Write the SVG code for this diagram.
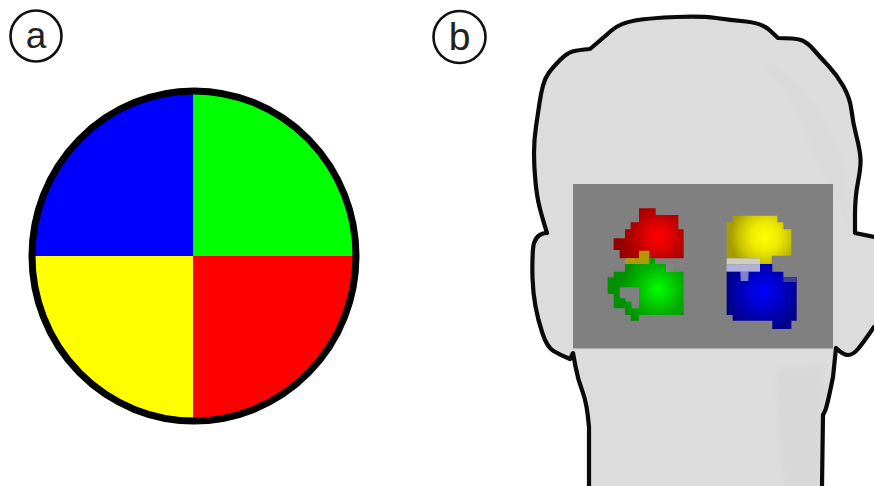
<svg xmlns="http://www.w3.org/2000/svg" width="874" height="486" viewBox="0 0 874 486">
  <style>
    .tag { fill: #fff; stroke: #111; stroke-width: 2.6; }
    .tag-text { font-family: "Liberation Sans", Arial, sans-serif; fill: #222; text-anchor: middle; }
    .outline { fill: none; stroke: #0a0a0a; stroke-width: 4.200; stroke-linejoin: round; stroke-linecap: round; }
  </style>
  <defs>
    <filter id="soft" x="-5%" y="-5%" width="110%" height="110%"><feGaussianBlur stdDeviation="0.55"/></filter>
    <filter id="shade" x="-20%" y="-20%" width="140%" height="140%"><feGaussianBlur stdDeviation="2.500"/></filter>
    <clipPath id="disc"><ellipse cx="194" cy="256" rx="162" ry="165"/></clipPath>
    <radialGradient id="glow-red" gradientUnits="userSpaceOnUse" cx="205" cy="140" r="120">
      <stop offset="0" stop-color="#ff0000"/><stop offset=".25" stop-color="#ea0000"/><stop offset=".6" stop-color="#b80000"/><stop offset="1" stop-color="#920000"/>
    </radialGradient>
    <radialGradient id="glow-green" gradientUnits="userSpaceOnUse" cx="205" cy="298" r="115">
      <stop offset="0" stop-color="#00ff00"/><stop offset=".25" stop-color="#00e000"/><stop offset=".6" stop-color="#00b400"/><stop offset="1" stop-color="#009000"/>
    </radialGradient>
    <radialGradient id="glow-yellow" gradientUnits="userSpaceOnUse" cx="525" cy="140" r="105">
      <stop offset="0" stop-color="#ffff00"/><stop offset=".4" stop-color="#eeea00"/><stop offset=".72" stop-color="#ccc600"/><stop offset="1" stop-color="#a49c00"/>
    </radialGradient>
    <radialGradient id="glow-blue" gradientUnits="userSpaceOnUse" cx="520" cy="305" r="115">
      <stop offset="0" stop-color="#0000ff"/><stop offset=".3" stop-color="#0000dc"/><stop offset=".7" stop-color="#0000ac"/><stop offset="1" stop-color="#000088"/>
    </radialGradient>
  </defs>
  <rect width="874" height="486" fill="#fff"/>

  <g id="label-a">
    <circle class="tag" cx="36" cy="36" r="25.500"/>
    <text class="tag-text" x="36" y="48" font-size="37">a</text>
  </g>
  <g id="label-b">
    <circle class="tag" cx="459.500" cy="37" r="26"/>
    <text class="tag-text" x="459.500" y="50" font-size="39">b</text>
  </g>

  <g id="disc-quadrants">
    <g clip-path="url(#disc)">
      <rect x="30" y="90" width="163" height="166" fill="#0000ff"/>
      <rect x="193" y="90" width="165" height="166" fill="#00ff00"/>
      <rect x="30" y="256" width="163" height="166" fill="#ffff00"/>
      <rect x="193" y="256" width="165" height="166" fill="#ff0000"/>
    </g>
    <ellipse cx="194" cy="256" rx="162" ry="165" fill="none" stroke="#000" stroke-width="7"/>
  </g>

  <g id="head">
    <path fill="#dcdcdc" d="M547 233Q542 217 539.500 207Q537 197 535.500 182Q534 167 534 153.500Q534 140 536 126.500Q538 113 539.500 103Q541 93 543 85.500Q545 78 549 72.500Q553 67 560 60Q567 53 572.500 51.500Q578 50 590 49Q603 38 611.500 30.500Q620 23 635 20.500Q650 18 676 17Q702 16 716 18Q730 20 746 21.500Q762 23 770 30.500L778 38Q795 38 801 40Q807 42 813.500 49.500Q820 57 828.500 66Q837 75 843.500 86.500Q850 98 851.500 110.500Q853 123 856.500 136.500Q860 150 860.500 158.500Q861 167 858 182Q855 197 855 215L855 233L874 237L874 327Q863 343 858 349Q853 355 848 355Q843 355 836 348L833 377Q827 407 825 411L823 415L822 486L589 486L589 427Q587 403 582.500 391.500Q578 380 575.500 366.500L573 353L570 359Q560 355 553.500 351Q547 347 542.500 333.500Q538 320 535.500 306.500Q533 293 532.500 278Q532 263 533 249Q534 235 545 233Z"/>
    <path d="M755 55C800 75 830 115 845 170L850 230L835 200L812 150L795 105Z" fill="#dadada" filter="url(#shade)"/>
    <path d="M778 368L825 366L820 420L818 486L785 486C778 440 776 400 778 368Z" fill="#d8d8d8" filter="url(#shade)"/>
    <path class="outline" d="M547 233Q542 217 539.500 207Q537 197 535.500 182Q534 167 534 153.500Q534 140 536 126.500Q538 113 539.500 103Q541 93 543 85.500Q545 78 549 72.500Q553 67 560 60Q567 53 572.500 51.500Q578 50 590 49Q603 38 611.500 30.500Q620 23 635 20.500Q650 18 676 17Q702 16 716 18Q730 20 746 21.500Q762 23 770 30.500L778 38Q795 38 801 40Q807 42 813.500 49.500Q820 57 828.500 66Q837 75 843.500 86.500Q850 98 851.500 110.500Q853 123 856.500 136.500Q860 150 860.500 158.500Q861 167 858 182Q855 197 855 215L855 233L874 237"/>
    <path class="outline" d="M874 327Q863 343 858 349Q853 355 848 355Q843 355 836 348L833 377Q827 407 825 411L823 415L822 486"/>
    <path class="outline" d="M589 486L589 427Q587 403 582.500 391.500Q578 380 575.500 366.500L573 353L570 359Q560 355 553.500 351Q547 347 542.500 333.500Q538 320 535.500 306.500Q533 293 532.500 278Q532 263 533 249Q534 235 545 233"/>
  </g>

  <g id="activation-map">
    <rect x="573" y="184" width="260" height="164.500" fill="#808080"/>
    <g transform="translate(590 190) scale(.33333)" filter="url(#soft)">
      <!-- red patch -->
      <path fill="url(#glow-red)" d="M147 55H197V75H265V118H281V205H89V180H71V145H105V118H122V97H147Z"/>
      <!-- overlap of red and green -->
      <path fill="#b09a00" d="M147 182H178V222H105V205H147Z"/>
      <path fill="#00a000" d="M178 205H195V222H178Z"/>
      <!-- green patch -->
      <path fill="url(#glow-green)" fill-rule="evenodd" d="M105 222H228V245H281V375H147V392H122V375H105V355H71V312H53V262H71V245H105ZM89 292H147V355H125V335H107V325H89Z"/>
      <rect x="228" y="225" width="20" height="20" fill="#808a80"/>
      <!-- yellow patch -->
      <path fill="url(#glow-yellow)" d="M428 77H562V97H580V118H604V197H545V222H510V205H410V97H428Z"/>
      <!-- washed-out overlap of yellow and blue -->
      <rect x="410" y="205" width="100" height="18" fill="#cfcfb8"/>
      <rect x="410" y="223" width="100" height="22" fill="#b0b0dc"/>
      <!-- blue patch -->
      <path fill="url(#glow-blue)" d="M510 222H547V245H580V262H620V392H604V417H547V392H428V375H410V245H452V262H475V245H510Z"/>
      <rect x="452" y="245" width="23" height="28" fill="#8080d0"/>
      <rect x="580" y="262" width="40" height="14" fill="#404098"/>
    </g>
  </g>
</svg>
